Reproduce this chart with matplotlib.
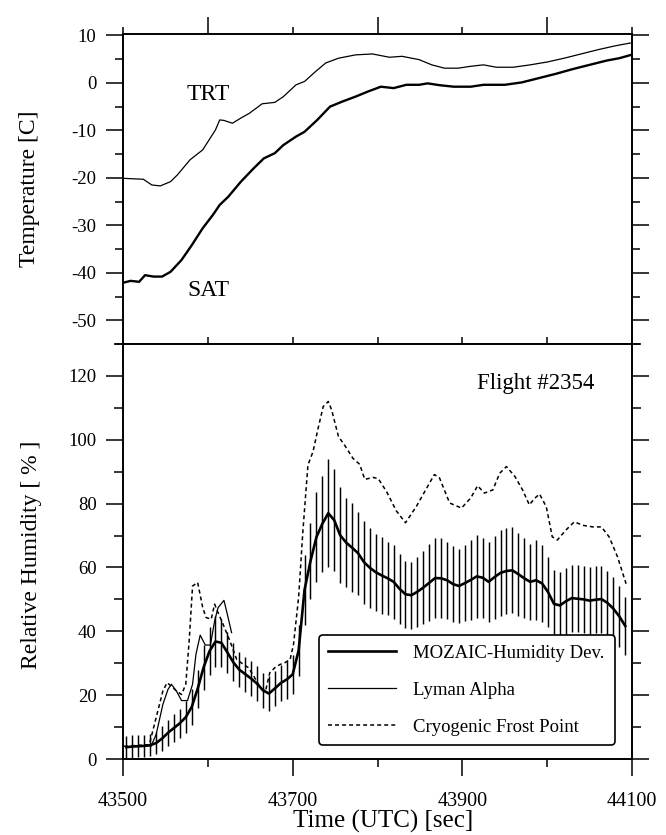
import numpy as np
import matplotlib
matplotlib.use("Agg")
import matplotlib.pyplot as plt
from matplotlib.ticker import MultipleLocator

plt.rcParams['font.family'] = ['Liberation Serif', 'DejaVu Serif']
plt.rcParams['axes.unicode_minus'] = False

# ---------------- temperature panel ----------------
trt_t = [43500, 43524, 43534, 43544, 43556, 43564, 43579, 43594, 43609, 43614,
         43619, 43629, 43639, 43649, 43664, 43679, 43689, 43704, 43714, 43727,
         43739, 43754, 43774, 43794, 43814, 43829, 43849, 43864, 43879, 43895,
         43910, 43925, 43940, 43960, 43980, 44000, 44020, 44040, 44060, 44080, 44098]
trt_c = [-20.1, -20.3, -21.5, -21.7, -20.8, -19.4, -16.2, -14.1, -9.9, -7.8,
         -7.9, -8.5, -7.4, -6.4, -4.4, -4.1, -2.9, -0.4, 0.3, 2.4,
         4.2, 5.2, 5.9, 6.1, 5.4, 5.6, 4.9, 3.8, 3.1, 3.1,
         3.5, 3.8, 3.3, 3.3, 3.8, 4.4, 5.2, 6.1, 7.0, 7.8, 8.4]

sat_t = [43500, 43509, 43519, 43526, 43536, 43546, 43556, 43569, 43581, 43594,
         43606, 43614, 43624, 43639, 43654, 43666, 43679, 43689, 43704, 43714,
         43729, 43744, 43759, 43774, 43789, 43804, 43819, 43834, 43849, 43859,
         43874, 43890, 43910, 43925, 43950, 43970, 43990, 44010, 44030, 44050,
         44070, 44085, 44099]
sat_c = [-42.1, -41.7, -41.9, -40.5, -40.8, -40.8, -39.8, -37.3, -34.2, -30.6,
         -27.8, -25.7, -24.0, -20.8, -18.0, -15.9, -14.8, -13.1, -11.3, -10.3,
         -7.8, -5.0, -3.9, -2.9, -1.8, -0.8, -1.1, -0.4, -0.4, -0.1,
         -0.5, -0.8, -0.8, -0.4, -0.4, 0.1, 1.0, 1.9, 2.9, 3.8,
         4.7, 5.2, 5.9]

# ---------------- humidity panel ----------------
mozaic_t = list(range(43504, 44095, 7))
mozaic_rh = [3.7, 3.9, 4.0, 4.1, 4.3, 5.0, 6.4, 8.2, 9.7, 11.2,
             13.1, 16.3, 22.0, 28.7, 33.8, 36.8, 36.4, 33.4, 30.3, 28.0,
             26.6, 25.2, 23.6, 21.5, 20.5, 22.1, 23.8, 24.9, 26.5, 34.0,
             53.0, 62.0, 69.5, 73.7, 77.0, 74.8, 70.1, 67.8, 66.2, 64.5,
             61.7, 59.9, 58.5, 57.5, 56.6, 55.5, 53.3, 51.6, 51.3, 52.4,
             53.7, 55.2, 56.7, 56.6, 56.0, 54.8, 54.2, 55.1, 56.1, 57.2,
             56.8, 55.5, 57.0, 58.3, 58.9, 59.1, 57.9, 56.6, 55.5, 56.0,
             55.0, 52.3, 48.6, 48.1, 49.4, 50.4, 50.2, 50.0, 49.6, 49.9,
             50.1, 48.9, 47.1, 44.7, 41.7]
mozaic_err = [3.5, 3.5, 3.5, 3.5, 3.5, 3.5, 4.0, 4.0, 4.5, 4.5,
              5.0, 5.5, 6.0, 7.0, 7.5, 8.0, 7.5, 6.5, 6.0, 5.5,
              5.5, 5.5, 5.5, 5.5, 5.5, 5.5, 5.5, 6.0, 6.0, 8.0,
              11.0, 12.0, 14.0, 15.0, 17.0, 16.0, 15.0, 14.0, 14.0, 13.0,
              13.0, 12.5, 12.0, 12.0, 11.5, 11.5, 11.0, 10.5, 10.5, 11.0,
              11.5, 12.0, 12.5, 12.5, 12.0, 12.0, 11.5, 12.0, 12.5, 13.0,
              12.5, 12.5, 13.0, 13.5, 13.5, 13.5, 13.0, 12.5, 12.0, 12.5,
              12.0, 11.0, 10.5, 10.5, 10.5, 10.5, 10.5, 10.5, 10.5, 10.5,
              10.5, 10.0, 10.0, 9.5, 9.0]

lyman_t = [43533, 43539, 43547, 43553, 43557, 43563, 43569, 43576, 43582, 43586,
           43591, 43597, 43603, 43608, 43612, 43619, 43623, 43628]
lyman_rh = [4.0, 7.6, 17.1, 21.8, 23.4, 21.3, 18.3, 18.3, 23.4, 32.8,
            38.8, 35.7, 35.7, 43.2, 47.4, 49.7, 45.3, 39.6]

cfp_t = [43501, 43531, 43539, 43547, 43552, 43557, 43563, 43569, 43574, 43578,
         43582, 43588, 43594, 43598, 43604, 43608, 43612, 43618, 43626, 43634,
         43642, 43648, 43654, 43662, 43668, 43673, 43679, 43685, 43691, 43697,
         43701, 43707, 43712, 43718, 43724, 43730, 43736, 43742, 43746, 43754,
         43761, 43771, 43779, 43785, 43795, 43801, 43811, 43822, 43833, 43846,
         43857, 43867, 43873, 43885, 43899, 43910, 43918, 43926, 43936, 43944,
         43952, 43962, 43971, 43979, 43985, 43991, 43999, 44006, 44012, 44022,
         44032, 44042, 44054, 44064, 44073, 44083, 44093]
cfp_rh = [4.0, 4.5, 12.9, 21.3, 23.9, 22.8, 21.3, 20.2, 23.4, 37.0,
          54.2, 55.3, 47.4, 44.3, 43.8, 48.5, 45.9, 42.2, 37.0, 31.2,
          29.6, 28.6, 26.0, 22.3, 21.3, 27.0, 28.6, 29.6, 30.2, 31.2,
          35.9, 50.6, 71.2, 92.1, 96.3, 103.6, 110.4, 112.0, 109.3, 101.0,
          98.4, 94.2, 92.3, 87.6, 88.2, 87.8, 83.6, 77.8, 74.0, 79.2,
          84.4, 89.1, 88.1, 80.2, 78.6, 81.8, 85.6, 83.3, 84.3, 89.5,
          91.6, 88.5, 84.3, 79.6, 81.6, 83.0, 79.0, 69.6, 68.6, 71.7,
          74.3, 73.2, 72.7, 72.7, 69.6, 63.3, 54.9]

x_ticks_major = [43500, 43700, 43900, 44100]
x_tick_labels = ['43500', '43700', '43900', '44100']

# ---------------- figure ----------------
W, H = 666, 835
fig = plt.figure(figsize=(W / 100, H / 100), dpi=100)
left = 123 / W
width = 509 / W
ax_t = fig.add_axes([left, 1 - 344 / H, width, 310 / H])
ax_h = fig.add_axes([left, 1 - 759 / H, width, 415 / H])

spine_lw = 1.4
tick_w = 1.1
for ax in (ax_t, ax_h):
    for s in ax.spines.values():
        s.set_linewidth(spine_lw)
    ax.set_xlim(43500, 44100)

# temperature panel
ax_t.plot(trt_t, trt_c, color='black', lw=0.9)
ax_t.plot(sat_t, sat_c, color='black', lw=1.7)
ax_t.set_ylim(-55, 10.3)
ax_t.yaxis.set_major_locator(MultipleLocator(10))
ax_t.yaxis.set_minor_locator(MultipleLocator(5))
ax_t.xaxis.set_major_locator(MultipleLocator(200))
ax_t.xaxis.set_minor_locator(MultipleLocator(100))
ax_t.tick_params(axis='y', which='both', direction='out', left=True, right=True,
                 labelleft=True, labelright=False, width=tick_w, labelsize=13.5, pad=6.5)
ax_t.tick_params(axis='y', which='major', length=12.5)
ax_t.tick_params(axis='y', which='minor', length=6)
ax_t.tick_params(axis='x', which='both', top=True, bottom=False, labelbottom=False,
                 labeltop=False, direction='out', width=tick_w)
ax_t.tick_params(axis='x', which='major', length=12.5)
ax_t.tick_params(axis='x', which='minor', length=5)
ax_t.text(43600, -2.5, 'TRT', ha='center', va='center', fontsize=17)
ax_t.text(43601, -43.7, 'SAT', ha='center', va='center', fontsize=17)

# crossing ticks along the shared boundary
ax_h.xaxis.set_major_locator(MultipleLocator(200))
ax_h.xaxis.set_minor_locator(MultipleLocator(100))
sec = ax_t.secondary_xaxis('bottom')
sec.set_xticks([43600, 43700, 43800, 43900, 44000])
sec.tick_params(direction='inout', length=10, width=tick_w, labelbottom=False)
sec.spines['bottom'].set_visible(False)

# humidity panel
ax_h.vlines(mozaic_t, np.array(mozaic_rh) - np.array(mozaic_err),
            np.array(mozaic_rh) + np.array(mozaic_err), color='black', lw=1.05)
l1, = ax_h.plot(mozaic_t, mozaic_rh, color='black', lw=1.9)
l2, = ax_h.plot(lyman_t, lyman_rh, color='black', lw=0.9)
l3, = ax_h.plot(cfp_t, cfp_rh, color='black', lw=1.1, linestyle=(0, (2.6, 2.0)))
ax_h.set_ylim(0, 130)
ax_h.yaxis.set_major_locator(MultipleLocator(20))
ax_h.yaxis.set_minor_locator(MultipleLocator(10))
ax_h.set_yticks(range(0, 121, 20))
ax_h.tick_params(axis='y', which='both', direction='out', left=True, right=True,
                 labelleft=True, labelright=False, width=tick_w, labelsize=13.5, pad=6.5)
ax_h.tick_params(axis='y', which='major', length=12.5)
ax_h.tick_params(axis='y', which='minor', length=6.5)
ax_h.set_xticks(x_ticks_major)
ax_h.set_xticklabels(x_tick_labels)
ax_h.tick_params(axis='x', which='both', direction='out', top=False, bottom=True,
                 width=tick_w, labelsize=14.5, pad=11)
ax_h.tick_params(axis='x', which='major', length=12.5)
ax_h.tick_params(axis='x', which='minor', length=5.5)

ax_h.text(43987, 117.5, 'Flight #2354', ha='center', va='center', fontsize=16.5)

leg = ax_h.legend([l1, l2, l3],
                  ['MOZAIC-Humidity Dev.', 'Lyman Alpha', 'Cryogenic Frost Point'],
                  loc='lower left', bbox_to_anchor=(0.385, 0.034, 0.582, 0.27),
                  mode='expand', fontsize=13.5, handlelength=3.6, handletextpad=0.9,
                  labelspacing=1.05, borderpad=0.5, borderaxespad=0,
                  fancybox=True, framealpha=1, edgecolor='black')
leg.get_frame().set_linewidth(1.2)

# axis titles
fig.text(30 / W, 1 - 189 / H, 'Temperature [C]', rotation=90, ha='center',
         va='center', fontsize=17)
fig.text(32 / W, 1 - 555 / H, 'Relative Humidity [ % ]', rotation=90, ha='center',
         va='center', fontsize=17)
fig.text(383 / W, 1 - 821 / H, 'Time (UTC) [sec]', ha='center', va='center',
         fontsize=18)

fig.savefig('out.png', dpi=100, facecolor='white')
